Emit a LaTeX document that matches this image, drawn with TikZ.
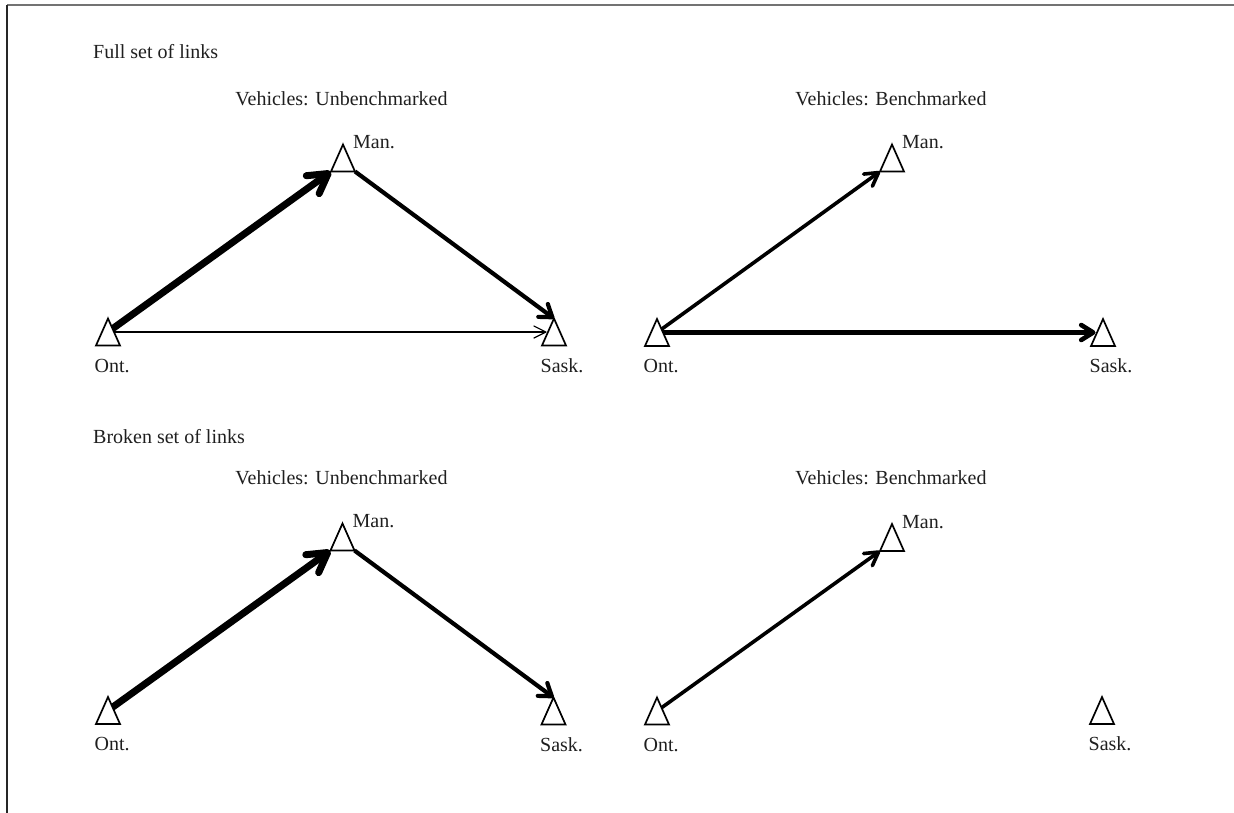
\documentclass[tikz,border=0pt]{standalone}
\usepackage{fontspec}
\setmainfont{Liberation Serif}
\usetikzlibrary{arrows.meta,calc}
\begin{document}
\begin{tikzpicture}[x=1pt,y=-1pt,
  site/.style={minimum width=24pt, minimum height=27pt, inner sep=0pt, outer sep=0pt},
  tri/.style={draw, fill=white, line width=1.7pt, line join=miter},
  txt/.style={font=\fontsize{20}{24}\selectfont, inner sep=0pt, text=black!88},
  lbl/.style={txt, anchor=base west},
  ttl/.style={txt, anchor=base},
  athick/.style={line width=7pt, -{Straight Barb[round,length=19pt,width=22pt]}},
  amid/.style={line width=4.2pt, -{Straight Barb[round,length=11.5pt,width=16pt]}},
  amidb/.style={line width=4.6pt, -{Straight Barb[round,length=12pt,width=15pt]}},
  alight/.style={line width=3.6pt, -{Straight Barb[round,length=13pt,width=15pt]}},
  athin/.style={line width=1.2pt, -{Straight Barb[round,length=12pt,width=12pt]}},
  frame/.style={line width=1.3pt}
]
\useasboundingbox (0,0) rectangle (1234,813);
\draw[frame, black!55] (7,5) -- (1234,5);
\draw[frame, black!85] (7,5) -- (7,813);

% sites
\node[site] (o1) at (108,332) {};
\node[site] (m1) at (343,158) {};
\node[site] (s1) at (554,332) {};
\node[site] (o2) at (657,332.5) {};
\node[site] (m2) at (892,158) {};
\node[site] (s2) at (1103,332.5) {};
\node[site] (o3) at (108,710.5) {};
\node[site] (m3) at (342.5,537) {};
\node[site] (s3) at (553.5,711) {};
\node[site] (o4) at (657,711) {};
\node[site] (m4) at (892,537.5) {};
\node[site] (s4) at (1102,710.5) {};

% titles
\node[lbl] (t1) at (93,58.3) {Full set of links};
\node[ttl] (v1) at (341.5,105.5) {Vehicles: Unbenchmarked};
\node[ttl] (v2) at (891,105.5) {Vehicles: Benchmarked};
\node[lbl] (t2) at (93,443) {Broken set of links};
\node[ttl] (v3) at (341.5,484.5) {Vehicles: Unbenchmarked};
\node[ttl] (v4) at (891,484.5) {Vehicles: Benchmarked};

% links: top left
\draw[athin] (o1.center) -- ($(s1.center)+(-7.5,0)$);
\draw[athick] (o1.center) -- (m1.south west);
\draw[amid] (m1.south east) -- (s1.north);
% top right
\draw[alight] (o2.center) -- (m2.south west);
\draw[amidb] (o2.center) -- ($(s2.center)+(-7.5,0)$);
% bottom left
\draw[athick] (o3.center) -- (m3.south west);
\draw[amid] (m3.south east) -- (s3.north);
% bottom right
\draw[alight] (o4.center) -- (m4.south west);

% triangles
\foreach \n in {o1,m1,s1,o2,m2,s2,o3,m3,s3,o4,m4,s4}{
  \draw[tri] (\n.north) -- (\n.south east) -- (\n.south west) -- cycle;
}

% site labels
\foreach \n in {m1,m2,m3,m4}{
  \node[lbl] at ($(\n.north)+(10,4)$) {Man.};
}
\foreach \n in {o1,o2,o3,o4}{
  \node[lbl] at ($(\n.south west)+(-1.5,26.5)$) {Ont.};
}
\foreach \n in {s1,s2,s3,s4}{
  \node[lbl] at ($(\n.south west)+(-1.5,26.5)$) {Sask.};
}
\end{tikzpicture}
\end{document}
